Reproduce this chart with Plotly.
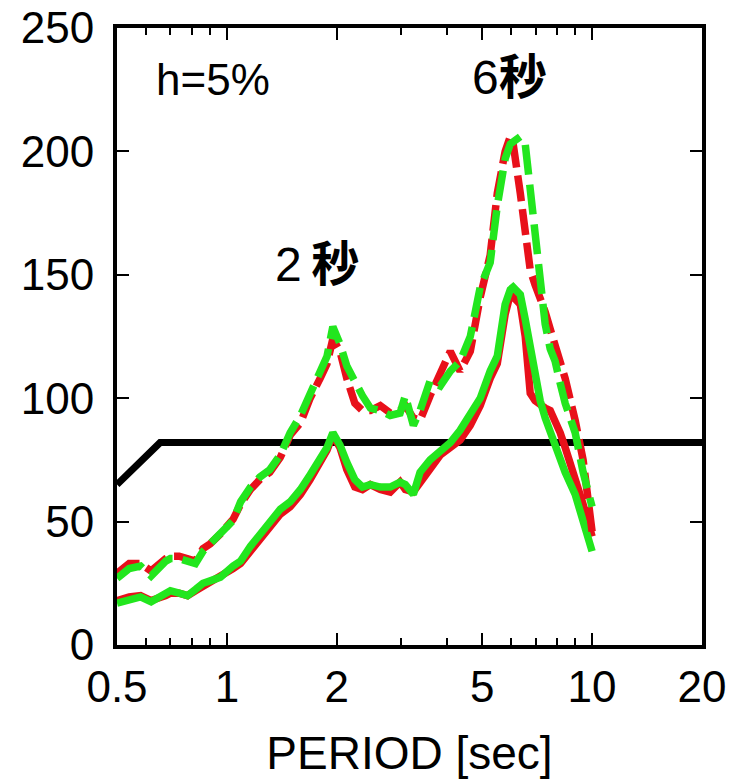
import math
import plotly.graph_objects as go

# ---- data (period [sec] vs response) ----
period = [0.5, 0.54, 0.58, 0.62, 0.68, 0.7, 0.74, 0.78, 0.82, 0.86,
          0.9, 0.96, 1.04, 1.09, 1.16, 1.23, 1.31, 1.4, 1.49, 1.59,
          1.69, 1.8, 1.88, 1.95, 2.04, 2.13, 2.24, 2.35, 2.47, 2.63,
          2.8, 2.98, 3.08, 3.24, 3.38, 3.6, 3.84, 4.09, 4.35, 4.64,
          4.94, 5.26, 5.5, 5.78, 5.97, 6.08, 6.36, 6.56, 6.77, 6.98,
          7.21, 7.44, 7.68, 7.92, 8.18, 8.44, 8.99, 9.45, 10.0]

upper_red = [29, 33, 33, 30, 35, 36, 36, 35, 34, 39,
             41, 45, 51, 57, 63, 67, 70, 76, 85, 90,
             100, 108, 114, 124, 119, 108, 98, 95, 95, 97,
             94, 95, 97, 92, 91, 101, 110, 119, 111, 119,
             141, 158, 183, 200, 206, 203, 183, 168, 152, 146,
             141, 135, 128, 122, 116, 108, 91, 75, 46]

upper_green = [27, 31, 32, 28, 34, 35, 35, 34, 33, 38,
               41, 44.5, 50.5, 58, 64, 68, 71, 77, 86, 93,
               102, 110, 117, 129, 122, 113, 106, 101, 96, 95,
               93, 94, 101, 89, 95, 107, 105, 111, 115, 125,
               145, 155, 178, 197, 203, 204, 206, 203, 185, 170,
               150, 130, 120, 115, 106, 98, 86, 70, 56]

lower_red = [18, 19.5, 20, 18, 20, 21, 21, 20, 22, 24,
             26, 28, 31, 33, 38, 43, 48, 53, 56, 61,
             67, 74, 79, 85, 80, 71, 64, 63, 65, 63,
             62, 66, 63, 62, 66, 72, 77, 80, 83, 89,
             97, 108, 114, 134, 142, 141, 138, 125, 102, 99,
             97, 96, 95, 91, 86, 80, 68, 57, 44]

lower_green = [17, 18.5, 19.5, 17.5, 20.5, 22, 21, 20, 22.5, 25,
               26, 27.5, 32, 34, 40, 44.5, 50, 55, 58, 63,
               69, 75, 80, 86, 81, 74, 67, 64, 65, 64,
               64, 66, 65, 61, 70, 75, 79, 82, 87, 93,
               100, 111, 117, 138, 144, 145, 142, 132, 120, 110,
               99, 92, 86, 81, 75, 70, 61, 50, 38]

limit_period = [0.5, 0.656, 20]
limit_value = [65, 82, 82]

x_ticks = [0.5, 1, 2, 5, 10, 20]
x_ticktext = ["0.5", "1", "2", "5", "10", "20"]
x_minor = [0.6, 0.7, 0.8, 0.9, 3, 4, 6, 7, 8, 9]
y_ticks = [0, 50, 100, 150, 200, 250]

RED = "#e8101a"
GREEN = "#22e61e"
FONT = "Liberation Sans, Arial, sans-serif"

fig = go.Figure()
fig.add_trace(go.Scatter(x=limit_period, y=limit_value, mode="lines",
                         line=dict(color="black", width=7), showlegend=False))
fig.add_trace(go.Scatter(x=period, y=lower_red, mode="lines",
                         line=dict(color=RED, width=7.5), showlegend=False))
fig.add_trace(go.Scatter(x=period, y=lower_green, mode="lines",
                         line=dict(color=GREEN, width=7.5), showlegend=False))
fig.add_trace(go.Scatter(x=period, y=upper_red, mode="lines",
                         line=dict(color=RED, width=7.5, dash="26px,8px"), showlegend=False))
fig.add_trace(go.Scatter(x=period, y=upper_green, mode="lines",
                         line=dict(color=GREEN, width=7.5, dash="30px,10px"), showlegend=False))

fig.add_annotation(x=math.log10(0.916), y=229, text="h=5%", showarrow=False,
                   font=dict(family=FONT, size=44, color="black"))
fig.add_annotation(x=math.log10(5.93), y=230, text="6<b>秒</b>", showarrow=False,
                   font=dict(family=FONT + ", Noto Sans CJK JP", size=48, color="black"))
fig.add_annotation(x=math.log10(1.766), y=154, text="2\u2009<b>秒</b>", showarrow=False,
                   font=dict(family=FONT + ", Noto Sans CJK JP", size=48, color="black"))

fig.update_layout(
    width=730, height=779,
    margin=dict(l=117, r=28, t=28, b=134, autoexpand=False),
    paper_bgcolor="white", plot_bgcolor="white",
    font=dict(family=FONT, color="black"),
    xaxis=dict(
        type="log", range=[math.log10(0.5), math.log10(20)],
        tickmode="array", tickvals=x_ticks, ticktext=x_ticktext,
        ticks="inside", ticklen=12, tickwidth=2, tickcolor="black",
        showline=True, linewidth=4, linecolor="black", mirror="ticks",
        showgrid=False, zeroline=False, automargin=False,
        tickfont=dict(size=44, family=FONT),
        minor=dict(tickmode="array", tickvals=x_minor, ticks="inside",
                   ticklen=7, tickwidth=2, tickcolor="black", showgrid=False),
        title=dict(text="PERIOD [sec]", font=dict(size=46, family=FONT), standoff=28),
    ),
    yaxis=dict(
        range=[0, 250], tickmode="array", tickvals=y_ticks,
        ticks="inside", ticklen=12, tickwidth=2, tickcolor="black",
        showline=True, linewidth=4, linecolor="black", mirror="ticks",
        showgrid=False, zeroline=False, automargin=False,
        tickfont=dict(size=44, family=FONT),
        ticklabelstandoff=10,
    ),
)

fig.write_html("out.html")
